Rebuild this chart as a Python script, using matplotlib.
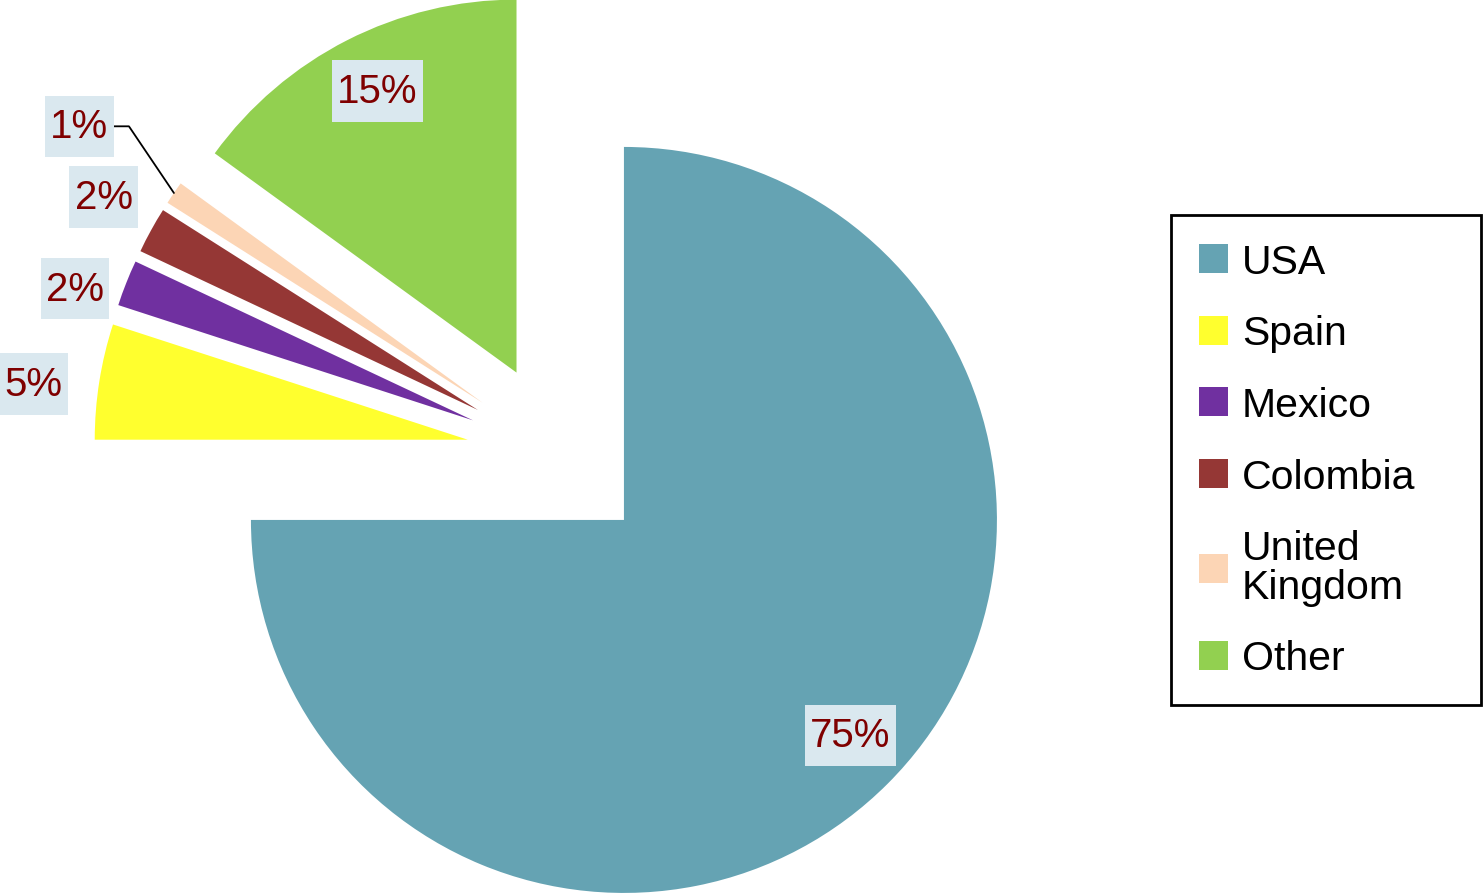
import matplotlib
matplotlib.use("Agg")
import matplotlib.pyplot as plt
from matplotlib.path import Path
import numpy as np

countries = ["USA", "Spain", "Mexico", "Colombia", "United\nKingdom", "Other"]
shares = [75, 5, 2, 2, 1, 15]
pct_labels = ["75%", "5%", "2%", "2%", "1%", "15%"]

colors = ["#65A3B3", "#FFFF2E", "#7030A0", "#953735", "#FCD5B5", "#92D050"]
LABEL_COLOR = "#7F0000"
LABEL_BG = "#DAE8EF"

# label placement: distance from pie origin and small angular nudge (deg)
label_r = [1.088, 1.418, 1.368, 1.400, 1.555, 1.087]
label_turn = [1.1, 1.4, 2.7, -0.7, -0.2, -0.5]
explode = [0.25, 0.245, 0.245, 0.245, 0.245, 0.245]

plt.rcParams["font.family"] = ["Liberation Sans", "DejaVu Sans"]

W, H = 1483, 895
scale, cx, cy = 373, 558, 455   # pixels per unit radius, pie origin in pixels


def label_box(x0, y0, width, height, mutation_size):
    # flat box, wider padding top/bottom than left/right (Excel data label look)
    px, py = 0.13 * mutation_size, 0.29 * mutation_size
    x1, y1 = x0 + width + px, y0 + height + py
    x0, y0 = x0 - px, y0 - py
    return Path([(x0, y0), (x1, y0), (x1, y1), (x0, y1), (x0, y0)], closed=True)


fig = plt.figure(figsize=(W / 100, H / 100), dpi=100)
ax = fig.add_axes([0, 0, 1, 1])

wedges, _ = ax.pie(shares, colors=colors, startangle=90, counterclock=False,
                   explode=explode, radius=1, wedgeprops=dict(linewidth=0))

ax.set_xlim(-cx / scale, (W - cx) / scale)
ax.set_ylim(-(H - cy) / scale, cy / scale)
ax.set_aspect("auto")
ax.axis("off")

box = dict(boxstyle=label_box, facecolor=LABEL_BG, edgecolor="none")
for i, (w, txt) in enumerate(zip(wedges, pct_labels)):
    mid = np.deg2rad((w.theta1 + w.theta2) / 2)
    ang = mid + np.deg2rad(label_turn[i])
    pos = (label_r[i] * np.cos(ang), label_r[i] * np.sin(ang))
    if countries[i] == "United\nKingdom":
        wc = w.center
        edge = (wc[0] + w.r * np.cos(mid), wc[1] + w.r * np.sin(mid))
        ax.annotate(txt, xy=edge, xytext=pos, ha="center", va="center",
                    fontsize=29, color=LABEL_COLOR, bbox=box,
                    arrowprops=dict(arrowstyle="-", color="black", lw=1.3,
                                    shrinkA=0, shrinkB=0, relpos=(1, 0.5),
                                    connectionstyle="angle,angleA=0,angleB=124,rad=0"))
    else:
        ax.text(pos[0], pos[1], txt, ha="center", va="center",
                fontsize=29, color=LABEL_COLOR, bbox=box)

leg = ax.legend(wedges, countries, loc="upper left",
                bbox_to_anchor=(1171 / W, 1 - 705 / H, 310 / W, 489 / H),
                bbox_transform=fig.transFigure, mode="expand", borderaxespad=0,
                fontsize=29.5, fancybox=False, framealpha=1, edgecolor="black",
                labelspacing=0.82, handlelength=0.72, handleheight=0.72,
                handletextpad=0.33, borderpad=0.68)
leg.get_frame().set_linewidth(2)
leg.get_texts()[4].set_linespacing(1.02)

fig.savefig("out.png", dpi=100)
